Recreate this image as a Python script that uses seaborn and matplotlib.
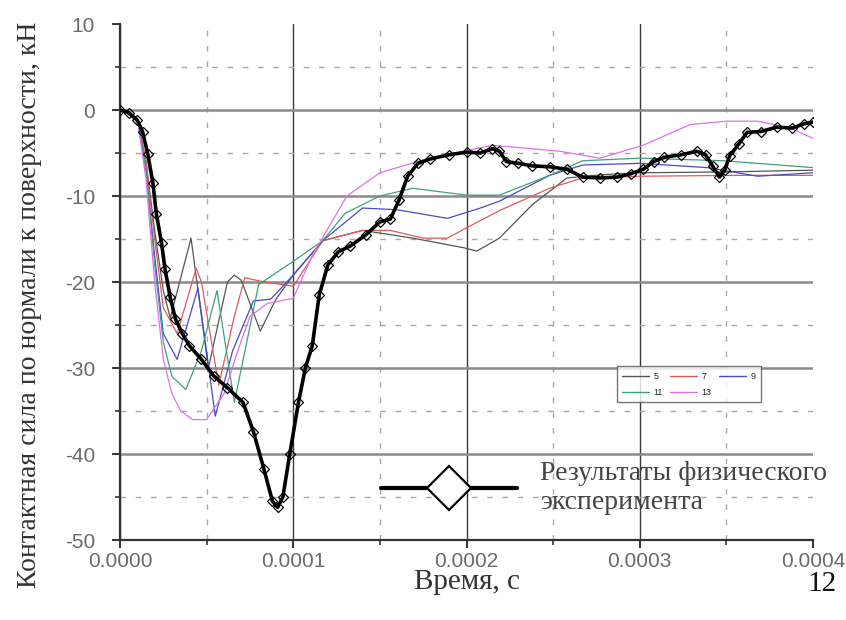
import numpy as np
import pandas as pd
import matplotlib
matplotlib.use("Agg")
import matplotlib.pyplot as plt
from matplotlib.lines import Line2D
from matplotlib.ticker import FormatStrFormatter, MultipleLocator
import seaborn as sns

# ---- data (time in units of 1e-4 s, force in kN) ----
t_exp = [0, 0.05, 0.1, 0.13, 0.16, 0.19, 0.21, 0.24, 0.26, 0.29, 0.32, 0.36, 0.40, 0.47,
         0.54, 0.62, 0.71, 0.77, 0.83, 0.88, 0.91, 0.94, 0.98, 1.03, 1.07, 1.11, 1.15, 1.20,
         1.26, 1.33, 1.42, 1.50, 1.56, 1.61, 1.66, 1.72, 1.79, 1.9, 2.0, 2.08, 2.15, 2.19,
         2.23, 2.3, 2.38, 2.48, 2.58, 2.67, 2.77, 2.87, 2.95, 3.02, 3.08, 3.14, 3.24, 3.33,
         3.38, 3.42, 3.46, 3.49, 3.52, 3.57, 3.62, 3.7, 3.79, 3.88, 3.95, 4.0]
f_exp = [0, -0.3, -1.2, -2.5, -5.1, -8.5, -12.1, -15.5, -18.5, -21.8, -24.3, -26, -27.4, -29,
         -30.9, -32.3, -34, -37.4, -41.7, -45.5, -46.2, -45, -40, -34, -30, -27.4, -21.5, -18,
         -16.5, -15.8, -14.5, -13, -12.7, -10.5, -7.7, -6.2, -5.7, -5.2, -4.9, -5.0, -4.5, -4.8,
         -6, -6.2, -6.5, -6.6, -6.9, -7.8, -7.9, -7.8, -7.4, -6.9, -6.0, -5.5, -5.2, -4.8,
         -5.2, -6.5, -7.8, -7.0, -5.3, -4.0, -2.6, -2.5, -2.0, -2.1, -1.6, -1.4]

t_5 = [0, 0.1, 0.15, 0.2, 0.25, 0.29, 0.41, 0.51, 0.62, 0.66, 0.70, 0.81, 0.9, 1.0, 1.17,
       1.4, 1.69, 1.98, 2.06, 2.19, 2.38, 2.58, 2.8, 3.0, 3.5, 4.0]
f_5 = [0, -1, -6, -14, -21, -24.2, -14.9, -30, -20, -19.2, -19.8, -25.7, -22, -19.2, -15.2,
       -14, -14.9, -16, -16.4, -14.9, -11, -7.9, -7.5, -7.3, -7.2, -7.0]

t_7 = [0, 0.1, 0.15, 0.2, 0.25, 0.33, 0.44, 0.47, 0.57, 0.66, 0.72, 0.81, 1.0, 1.17, 1.4,
       1.56, 1.75, 1.89, 2.0, 2.19, 2.48, 2.67, 3.0, 3.58, 4.0]
f_7 = [0, -1, -6, -15, -23, -26, -18.4, -20, -32, -24, -19.5, -19.9, -20.5, -15.2, -14,
       -14, -14.9, -14.9, -13.7, -11.7, -9.1, -7.9, -7.7, -7.6, -7.6]

t_9 = [0, 0.1, 0.15, 0.2, 0.25, 0.33, 0.45, 0.55, 0.65, 0.77, 0.87, 1.0, 1.17, 1.4, 1.6,
       1.89, 2.08, 2.19, 2.48, 2.67, 3.0, 3.39, 3.68, 4.0]
f_9 = [0, -1, -7, -17, -26, -29, -20.7, -35.6, -28, -22.2, -22, -19.2, -15.2, -11.4, -11.6,
       -12.6, -11.4, -10.6, -7.6, -6.4, -6.2, -6.7, -7.7, -7.3]

t_11 = [0, 0.1, 0.15, 0.2, 0.25, 0.3, 0.38, 0.47, 0.56, 0.66, 0.8, 1.0, 1.17, 1.3, 1.5,
        1.69, 2.0, 2.19, 2.48, 2.67, 3.0, 3.48, 3.87, 4.0]
f_11 = [0, -1, -7, -18, -27, -31, -32.5, -28, -21, -34, -20.3, -17.6, -15.2, -12, -10,
        -9.1, -9.9, -9.9, -7.6, -5.9, -5.6, -5.9, -6.5, -6.7]

t_13 = [0, 0.1, 0.15, 0.2, 0.25, 0.3, 0.35, 0.42, 0.5, 0.6, 0.68, 0.75, 0.85, 1.0, 1.11,
        1.31, 1.5, 1.75, 2.15, 2.54, 2.77, 3.02, 3.29, 3.5, 3.68, 3.87, 4.0]
f_13 = [0, -1, -8, -20, -29, -33, -35, -36, -36, -33, -28, -24, -22.5, -21.9, -16.9,
        -10, -7.3, -5.8, -4.1, -4.8, -5.6, -4.1, -1.7, -1.3, -1.3, -2.1, -3.3]

sim_names = ["5", "7", "9", "11", "13"]
sim_t = [t_5, t_7, t_9, t_11, t_13]
sim_f = [f_5, f_7, f_9, f_11, f_13]
sim_colors = ["#555555", "#e05a5a", "#4a4ac8", "#3fa080", "#e070e8"]

x_ticks = [0, 0.0001, 0.0002, 0.0003, 0.0004]
y_ticks = [-50, -40, -30, -20, -10, 0, 10]

exp_label = "Результаты физического\nэксперимента"
x_label = "Время, с"
y_label = "Контактная сила по нормали к поверхности, кН"
page_no = "12"

# ---- figure ----
sns.set_theme(style="white")
plt.rcParams["font.family"] = ["Liberation Sans", "DejaVu Sans"]
plt.rcParams["axes.unicode_minus"] = False

fig = plt.figure(figsize=(8.46, 6.2), dpi=100)
ax = fig.add_axes([120 / 846, 80 / 620, 693 / 846, 516 / 620])

sim_handles = {}
for name, tt, ff, col in zip(sim_names, sim_t, sim_f, sim_colors):
    df = pd.DataFrame({"t": np.array(tt) * 1e-4, "f": ff})
    sns.lineplot(data=df, x="t", y="f", ax=ax, color=col, lw=0.9, sort=False,
                 estimator=None, legend=False)
    sim_handles[name] = Line2D([], [], color=col, lw=1.0)

dfe = pd.DataFrame({"t": np.array(t_exp) * 1e-4, "f": f_exp})
sns.lineplot(data=dfe, x="t", y="f", ax=ax, color="black", lw=2.6, sort=False,
             estimator=None, marker="D", markersize=5.5, markerfacecolor="none",
             markeredgecolor="black", markeredgewidth=0.9, legend=False, zorder=5)

ax.set_xlim(0, 0.0004)
ax.set_ylim(-50, 10)
ax.set_xticks(x_ticks)
ax.set_yticks(y_ticks)
ax.xaxis.set_minor_locator(MultipleLocator(0.00005))
ax.yaxis.set_minor_locator(MultipleLocator(5))
ax.xaxis.set_major_formatter(FormatStrFormatter("%.4f"))

ax.grid(which="major", axis="y", color="#8a8a8a", lw=1.8, ls="-")
ax.grid(which="major", axis="x", color="#3a3a3a", lw=1.0, ls="-")
ax.grid(which="minor", axis="both", color="#a8a8a8", lw=1.0, ls=(0, (4, 7)))
ax.yaxis.get_major_ticks()[-1].gridline.set_visible(False)
ax.xaxis.get_major_ticks()[-1].gridline.set_visible(False)
ax.set_axisbelow(True)

for s in ["top", "right"]:
    ax.spines[s].set_visible(False)
for s in ["left", "bottom"]:
    ax.spines[s].set_color("#333333")
    ax.spines[s].set_linewidth(1.6)

ax.tick_params(which="major", direction="out", length=6, width=1.4, color="#333333",
               labelsize=15, labelcolor="#6a6a6a", left=True, bottom=True)
ax.tick_params(which="minor", direction="out", length=3.5, width=1.2, color="#333333",
               left=True, bottom=True)
ax.tick_params(axis="x", which="major", pad=2.5)
ax.tick_params(axis="y", which="major", pad=12)

ax.set_xlabel(x_label, family="Liberation Serif", fontsize=21, color="#333333")
ax.set_ylabel(y_label, family="Liberation Serif", fontsize=20, color="#333333")
ax.xaxis.set_label_coords(0.5, -0.056)
ax.yaxis.set_label_coords(-0.113, 0.455)

order = ["5", "11", "7", "13", "9"]
leg1 = ax.legend([sim_handles[n] for n in order], order, ncol=3, loc="lower left",
                 bbox_to_anchor=(0.71, 0.258), fontsize=6.5, frameon=True, fancybox=False,
                 edgecolor="#555555", handlelength=3.0, columnspacing=0.8,
                 handletextpad=0.5, borderpad=0.6, labelspacing=0.8)
leg1.get_frame().set_linewidth(1.0)
ax.add_artist(leg1)

h_exp = Line2D([], [], color="black", lw=3, marker="D", markersize=22,
               markerfacecolor="white", markeredgecolor="black", markeredgewidth=1.6)
leg2 = ax.legend([h_exp], [exp_label], loc="center left", bbox_to_anchor=(0.341, 0.1),
                 frameon=False, handlelength=4.9, handletextpad=0.8,
                 prop={"family": "Liberation Serif", "size": 20})
for txt in leg2.get_texts():
    txt.set_color("#444444")

fig.text(822 / 846, 1 - 584 / 620, page_no, family="Liberation Serif", fontsize=21,
         color="#111111", ha="center", va="center")

fig.savefig("out.png", dpi=100)
